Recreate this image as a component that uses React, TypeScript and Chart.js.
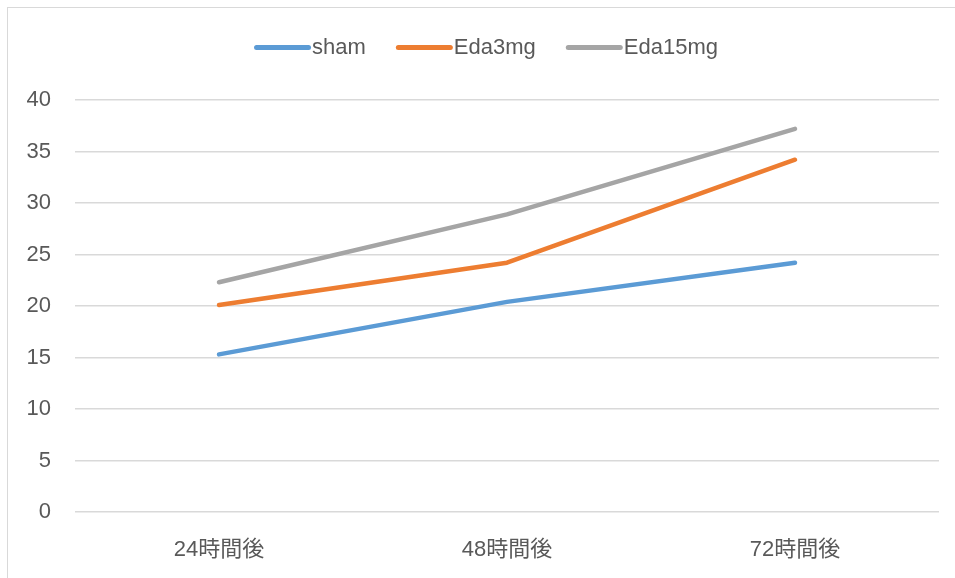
import React, { useEffect, useRef } from "react";
import { Chart, registerables } from "chart.js";

Chart.register(...registerables);

// Time points after treatment
const categories = ["24時間後", "48時間後", "72時間後"];

// Series values
const shamValues = [15.3, 20.4, 24.2];
const eda3mgValues = [20.1, 24.2, 34.2];
const eda15mgValues = [22.3, 28.9, 37.2];

const seriesNames = ["sham", "Eda3mg", "Eda15mg"];
const seriesColors = ["#5B9BD5", "#ED7D31", "#A5A5A5"];

// Y axis range
const yMin = 0;
const yMax = 40;
const yStep = 5;

const FONT_FAMILY = '"Liberation Sans", Arial, "Noto Sans CJK JP", sans-serif';
const TEXT_COLOR = "#595959";
const GRID_COLOR = "#d9d9d9";

// Draws the centered legend row with rounded line keys above the plot
const topLegend = {
  id: "topLegend",
  afterDraw(chart: any) {
    const ctx = chart.ctx as CanvasRenderingContext2D;
    const fontSize = 22;
    const keyLen = 57;
    const keyGap = 1;
    const itemGap = 30;
    const cy = 47.5;
    const centerX = 486;
    ctx.save();
    ctx.font = `${fontSize}px ${FONT_FAMILY}`;
    const items = chart.data.datasets.map((ds: any) => ({
      label: ds.label as string,
      color: ds.borderColor as string,
      width: ctx.measureText(ds.label).width,
    }));
    const total =
      items.reduce((s: number, it: any) => s + keyLen + keyGap + it.width, 0) +
      itemGap * (items.length - 1);
    let x = centerX - total / 2;
    ctx.textBaseline = "middle";
    ctx.textAlign = "left";
    for (const it of items) {
      ctx.strokeStyle = it.color;
      ctx.lineWidth = 5;
      ctx.lineCap = "round";
      ctx.beginPath();
      ctx.moveTo(x + 2.5, cy);
      ctx.lineTo(x + keyLen - 2.5, cy);
      ctx.stroke();
      ctx.fillStyle = TEXT_COLOR;
      ctx.fillText(it.label, x + keyLen + keyGap, cy);
      x += keyLen + keyGap + it.width + itemGap;
    }
    ctx.restore();
  },
};

export default function App() {
  const canvasRef = useRef<HTMLCanvasElement | null>(null);

  useEffect(() => {
    if (!canvasRef.current) return;
    const allValues = [shamValues, eda3mgValues, eda15mgValues];
    const chart = new Chart(canvasRef.current, {
      type: "line",
      data: {
        labels: categories,
        datasets: allValues.map((vals, i) => ({
          label: seriesNames[i],
          data: vals,
          borderColor: seriesColors[i],
          backgroundColor: seriesColors[i],
          borderWidth: 4.5,
          borderCapStyle: "round" as const,
          borderJoinStyle: "round" as const,
          pointRadius: 0,
          pointHoverRadius: 0,
          tension: 0,
          fill: false,
        })),
      },
      options: {
        animation: false,
        responsive: false,
        events: [],
        layout: { padding: { top: 100, right: 16, bottom: 0, left: 0 } },
        plugins: {
          legend: { display: false },
          tooltip: { enabled: false },
          title: { display: false },
        },
        scales: {
          x: {
            type: "category",
            offset: true,
            grid: { display: false, drawTicks: false },
            border: { display: false },
            ticks: {
              color: TEXT_COLOR,
              font: { family: FONT_FAMILY, size: 22 },
              padding: 25,
              maxRotation: 0,
              autoSkip: false,
            },
            afterFit(scale: any) {
              scale.height = 66;
            },
          },
          y: {
            min: yMin,
            max: yMax,
            grid: {
              color: GRID_COLOR,
              lineWidth: 1.4,
              drawTicks: false,
            },
            border: { display: false },
            ticks: {
              stepSize: yStep,
              color: TEXT_COLOR,
              font: { family: FONT_FAMILY, size: 22 },
              padding: 24,
            },
            afterFit(scale: any) {
              scale.width = 75;
            },
          },
        },
      },
      plugins: [topLegend],
    });
    return () => chart.destroy();
  }, []);

  return (
    <>
      <div
        style={{
          position: "fixed",
          left: 7,
          top: 7,
          right: 0,
          bottom: 0,
          borderTop: `1.5px solid ${GRID_COLOR}`,
          borderLeft: `1.5px solid ${GRID_COLOR}`,
          background: "#ffffff",
        }}
      />
      <canvas
        ref={canvasRef}
        width={955}
        height={578}
        style={{ position: "fixed", left: 0, top: 0, display: "block" }}
      />
    </>
  );
}
